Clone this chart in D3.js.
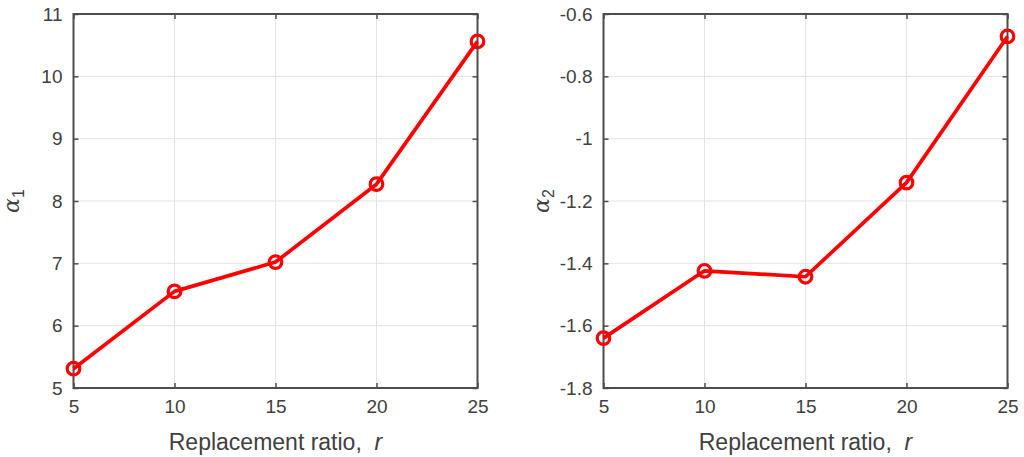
<!DOCTYPE html>
<html lang="en">
<head>
  <meta charset="UTF-8">
  <title>alpha vs replacement ratio</title>
  <script src="https://d3js.org/d3.v7.min.js"></script>
  <style>
    body { margin: 0; background: #fff; }
    text { font-family: "Liberation Sans", Arial, sans-serif; fill: #404040; }
  </style>
</head>
<body>
  <svg id="chart" width="1024" height="457"></svg>

  <script>
    // data
    const ratios = [5, 10, 15, 20, 25];
    const alpha1 = [5.31, 6.55, 7.02, 8.27, 10.56];
    const alpha2 = [-1.640, -1.424, -1.443, -1.141, -0.672];

    const xTicks = [5, 10, 15, 20, 25];
    const y1Ticks = [5, 6, 7, 8, 9, 10, 11];
    const y2Ticks = [-1.8, -1.6, -1.4, -1.2, -1, -0.8, -0.6];

    const svg = d3.select("#chart");
    const axisColor = "#4d4d4d";
    const gridColor = "#e3e3e3";

    const plotTop = 14, plotBottom = 388, w = 404;

    function panel(left, yVals, yDomain, yTicks, sub) {
      const g = svg.append("g");
      const x = d3.scaleLinear().domain([5, 25]).range([left, left + w]);
      const y = d3.scaleLinear().domain(yDomain).range([plotBottom, plotTop]);

      // grid
      g.selectAll(".gx").data(xTicks.slice(1, -1)).join("line")
        .attr("x1", d => x(d)).attr("x2", d => x(d))
        .attr("y1", plotTop).attr("y2", plotBottom)
        .attr("stroke", gridColor).attr("stroke-width", 1);
      g.selectAll(".gy").data(yTicks.slice(1, -1)).join("line")
        .attr("y1", d => y(d)).attr("y2", d => y(d))
        .attr("x1", left).attr("x2", left + w)
        .attr("stroke", gridColor).attr("stroke-width", 1);

      // axes, ticks inward on all four sides
      const style = sel => {
        sel.select(".domain").remove();
        sel.selectAll(".tick line").attr("stroke", axisColor).attr("stroke-width", 1.5);
        sel.selectAll(".tick text").attr("fill", "#404040")
          .style("font-size", "19px").style("font-family", "Liberation Sans, Arial, sans-serif");
      };
      g.append("g").attr("transform", `translate(0,${plotBottom})`)
        .call(d3.axisBottom(x).tickValues(xTicks).tickSizeInner(-5).tickSizeOuter(0).tickPadding(12))
        .call(style);
      g.append("g").attr("transform", `translate(0,${plotTop})`)
        .call(d3.axisTop(x).tickValues(xTicks).tickSizeInner(-5).tickSizeOuter(0).tickFormat(""))
        .call(style);
      g.append("g").attr("transform", `translate(${left},0)`)
        .call(d3.axisLeft(y).tickValues(yTicks).tickSizeInner(-5).tickSizeOuter(0).tickPadding(11)
          .tickFormat(d => String(+d.toFixed(1))))
        .call(style);
      g.append("g").attr("transform", `translate(${left + w},0)`)
        .call(d3.axisRight(y).tickValues(yTicks).tickSizeInner(-5).tickSizeOuter(0).tickFormat(""))
        .call(style);

      g.append("rect")
        .attr("x", left).attr("y", plotTop).attr("width", w).attr("height", plotBottom - plotTop)
        .attr("fill", "none").attr("stroke", axisColor).attr("stroke-width", 2);

      // series
      const pts = ratios.map((r, i) => [r, yVals[i]]);
      g.append("path").datum(pts)
        .attr("d", d3.line().x(d => x(d[0])).y(d => y(d[1])))
        .attr("fill", "none").attr("stroke", "#ff0000").attr("stroke-width", 3.7)
        .attr("stroke-linejoin", "round");
      g.selectAll(".mk").data(pts).join("circle")
        .attr("cx", d => x(d[0])).attr("cy", d => y(d[1])).attr("r", 6.3)
        .attr("fill", "none").attr("stroke", "#ff0000").attr("stroke-width", 3.2);

      // labels
      const xl = g.append("text")
        .attr("x", left + w / 2).attr("y", 450)
        .attr("text-anchor", "middle").style("font-size", "23px")
        .style("white-space", "pre");
      xl.append("tspan").text("Replacement ratio,  ");
      xl.append("tspan").text("r").style("font-style", "italic");

      const yl = g.append("text")
        .attr("transform", `translate(${left - 55},${(plotTop + plotBottom) / 2}) rotate(-90)`)
        .attr("text-anchor", "middle").style("font-size", "22px");
      yl.append("tspan").text("α")
        .style("font-family", "DejaVu Serif, serif").style("font-style", "italic");
      yl.append("tspan").text(sub).attr("dy", 5).style("font-size", "16px");
    }

    panel(73.5, alpha1, [5, 11], y1Ticks, "1");
    panel(603.5, alpha2, [-1.8, -0.6], y2Ticks, "2");
  </script>
</body>
</html>
